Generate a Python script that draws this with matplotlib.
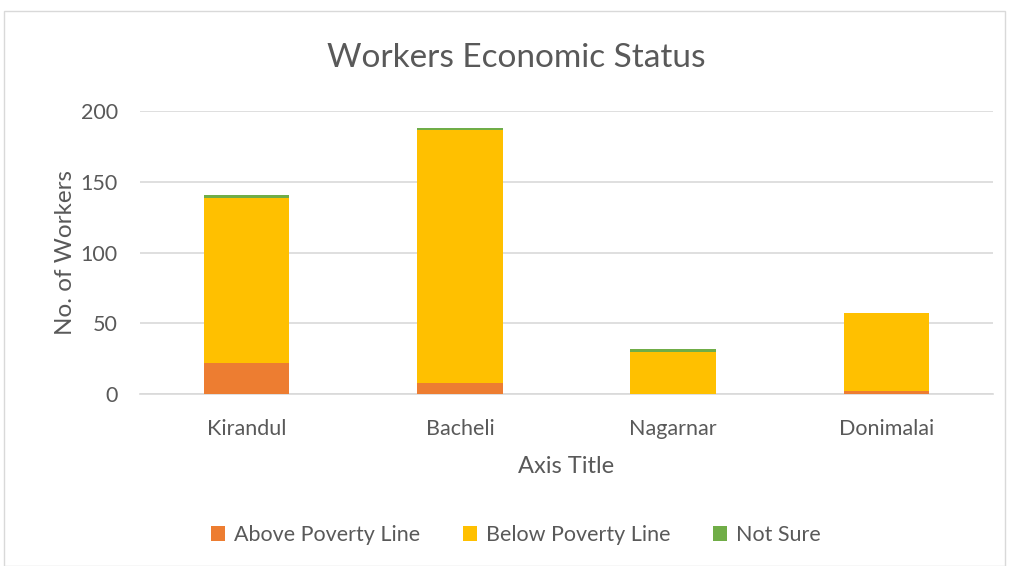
import matplotlib.pyplot as plt
import numpy as np
from matplotlib.patches import Rectangle

plt.rcParams['font.family'] = ['Lato', 'DejaVu Sans']

sites = ['Kirandul', 'Bacheli', 'Nagarnar', 'Donimalai']
above = [22, 8, 0, 2]
below = [117, 179, 30, 55]
not_sure = [2, 1, 2, 0]

txt = '#595959'
grid = '#d9d9d9'

fig = plt.figure(figsize=(10.09, 5.66), dpi=100)
fig.patches.append(Rectangle((4/1009, 0), 1001/1009, 1 - 11/566, transform=fig.transFigure,
                             fill=False, edgecolor=grid, linewidth=1))
ax = fig.add_axes([140/1009, 1 - 394/566, 853/1009, 282.6/566])

x = np.arange(len(sites))
b1 = np.array(above)
b2 = b1 + np.array(below)
ax.bar(x, above, width=0.4, color='#ED7D31', label='Above Poverty Line', zorder=3)
ax.bar(x, below, width=0.4, bottom=b1, color='#FFC000', label='Below Poverty Line', zorder=3)
ax.bar(x, not_sure, width=0.4, bottom=b2, color='#70AD47', label='Not Sure', zorder=3)

ax.set_xlim(-0.5, 3.5)
ax.set_ylim(0, 200)
ax.set_yticks([0, 50, 100, 150, 200])
ax.yaxis.grid(True, color=grid, linewidth=1.2, zorder=0)
ax.set_xticks(x)
ax.set_xticklabels(sites)
ax.tick_params(axis='both', length=0, labelsize=15.5, colors=txt)
ax.tick_params(axis='y', pad=16)
ax.tick_params(axis='x', pad=18)
for s in ['top', 'right', 'left']:
    ax.spines[s].set_visible(False)
ax.spines['bottom'].set_color(grid)
ax.spines['bottom'].set_linewidth(1.2)

ax.set_ylabel('No. of Workers', fontsize=17.5, color=txt, labelpad=3)
ax.set_xlabel('Axis Title', fontsize=17, color=txt, labelpad=12)
fig.text(516/1009, 1 - 58/566, 'Workers Economic Status', ha='center', va='center',
         fontsize=24, color=txt)

fig.legend(loc='center', bbox_to_anchor=(516/1009, 1 - 535/566), ncol=3, frameon=False,
           fontsize=15.5, labelcolor=txt, handlelength=0.65, handleheight=0.65,
           handletextpad=0.4, columnspacing=2.0)

fig.savefig('out.png', dpi=100)
